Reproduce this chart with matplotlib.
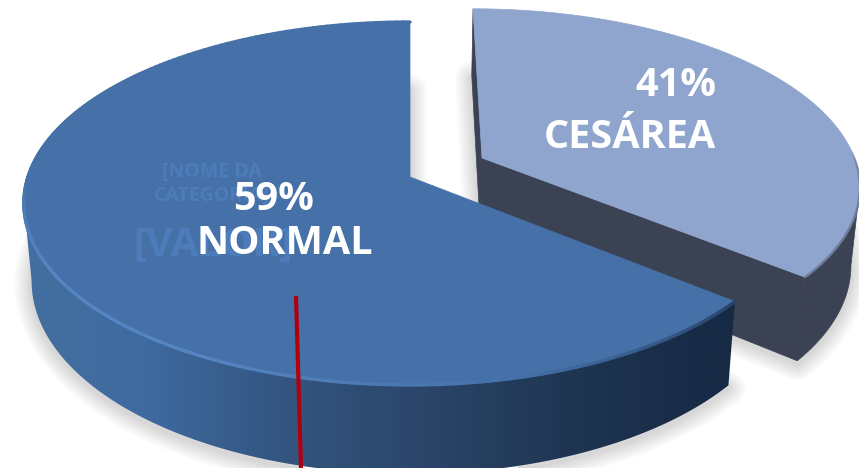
import numpy as np
import matplotlib
matplotlib.use("Agg")
import matplotlib.pyplot as plt
from matplotlib.collections import LineCollection
from matplotlib.colors import LinearSegmentedColormap, to_rgb
from matplotlib.patches import Polygon

# === data ===
categories = ["NORMAL", "CESÁREA"]
percents = [59, 41]
placeholder_name = "[NOME DA\nCATEGORIA]"
placeholder_value = "[VALOR]"

plt.rcParams['font.family'] = ['Open Sans', 'DejaVu Sans']

# === pie geometry, in pixels of the picture ===
CX, CY = 410, 177
A, B = 382, 177.6
K = 0.146          # perspective
DEPTH = 76
SHRINK = 0.98      # lower ring is a bit narrower
WARP = 20.0        # excel's rotated view squeezes the angles


def project(angle, radius=1.0, dx=0.0, dy=0.0, lower=False):
    # angle in degrees, clockwise from 12 o'clock
    t = np.radians(angle + WARP * np.sin(np.radians(2 * np.asarray(angle, dtype=float))))
    u, v = radius * np.sin(t), -radius * np.cos(t)
    s = 1 / (1 - K * v)
    x = (dx + A * u) * s
    y = (dy + B * v) * s
    if lower:
        x = x * SHRINK
        y = y + DEPTH * s
    return CX + x, CY + y


def arc(a0, a1, lower=False, **kw):
    angles = np.linspace(a0, a1, 300)
    return np.column_stack(project(angles, lower=lower, **kw))


split = 360 * percents[1] / 100  # cesarea runs 0..split, normal split..360

fig = plt.figure(figsize=(8.59, 4.68), dpi=100)
ax = fig.add_axes([0, 0, 1, 1])

ces = dict(radius=0.975, dx=72, dy=-19)
nor = dict()


def slice_parts(a0, a1, **kw):
    top = arc(a0, a1, **kw)
    low = arc(a0, a1, lower=True, **kw)
    apex = np.array(project(0.0, radius=0.0, dx=kw.get("dx", 0), dy=kw.get("dy", 0)))
    apex_low = np.array(project(0.0, radius=0.0, dx=kw.get("dx", 0), dy=kw.get("dy", 0), lower=True))
    return top, low, apex, apex_low


def soft_shadow(points):
    for w in range(24, 0, -3):
        ax.add_patch(Polygon(points + [0, 3], closed=True, fc="none", ec="black",
                             lw=w, alpha=0.018, joinstyle="round", zorder=1))


def side_gradient(points, stops, zorder):
    cmap = LinearSegmentedColormap.from_list("side", stops)
    im = ax.imshow(np.linspace(0, 1, 400)[None, :], cmap=cmap, aspect="auto",
                   extent=(0, 859, 468, 0), zorder=zorder, vmin=0, vmax=1)
    clip = Polygon(points, closed=True, transform=ax.transData)
    im.set_clip_path(clip)


def rim(points, colors, lw, zorder):
    segs = np.stack([points[:-1], points[1:]], axis=1)
    ax.add_collection(LineCollection(segs, colors=colors, linewidths=lw, zorder=zorder,
                                     capstyle="round"))


# --- cesarea, behind ---
top, low, apex, apex_low = slice_parts(0, split, **ces)
soft_shadow(np.vstack([[apex_low], low]))
dark = "#3b4254"
i_top, i_low = np.argmax(top[:, 0]), np.argmax(low[:, 0])
body = np.vstack([top[i_top:], low[i_low:][::-1]])
ax.add_patch(Polygon(body, closed=True, fc=dark, ec=dark, lw=0.5, zorder=2))
ax.add_patch(Polygon(np.vstack([apex, apex_low, low[0], top[0]]), closed=True, fc=dark, ec=dark, lw=0.5, zorder=2))
ax.add_patch(Polygon(np.vstack([apex, apex_low, low[-1], top[-1]]), closed=True, fc=dark, ec=dark, lw=0.5, zorder=2))
ax.add_patch(Polygon(np.vstack([[apex], top]), closed=True, fc="#8fa5cd", ec="#8fa5cd", lw=0.5, zorder=3))
n_rim = len(top) - 1
# blurred edge only on the front part of the rim
rim(top, [(*to_rgb("#6f7d99"), np.clip((i / n_rim - 0.55) * 2.5, 0, 1)) for i in range(n_rim)], 1.6, 4)

# --- normal, in front ---
top, low, apex, apex_low = slice_parts(split, 360, **nor)
soft_shadow(np.vstack([[apex_low], low]))
i_top, i_low = np.argmin(top[:, 0]), np.argmin(low[:, 0])
body = np.vstack([top[:i_top + 1], low[:i_low + 1][::-1]])
side_gradient(body, ["#44709f", "#3f6aa0", "#33557f", "#2a4568", "#1f3552", "#172a45", "#172a45"], 5)
ax.add_patch(Polygon(np.vstack([[apex], top]), closed=True, fc="#4571a8", ec="#4571a8", lw=0.5, zorder=6))

# lighter bevel along the front edge, dark at the cut end, gone on the back half
bevel = LinearSegmentedColormap.from_list("bevel", ["#28446a", "#4571a8", "#5485c2", "#5485c2", "#4c7bb6", "#4571a8"])
n_rim = len(top) - 1
frac = np.linspace(0, 1, n_rim)
rim(top, [bevel(min(f * 1.75, 1.0)) for f in frac], 2.4, 7)

# --- placeholders left under the real labels ---
ghost = "#4c7cb9"
ax.text(212, 184, placeholder_name, color=ghost, fontsize=14, fontweight="bold", ha="center",
        va="center", linespacing=1.25, zorder=8)
ax.text(213, 246, placeholder_value, color=ghost, fontsize=29, fontweight="bold", ha="center",
        va="center", zorder=8)

# --- labels ---
ax.text(274, 199, f"{percents[0]}%", color="white", fontsize=28.5, fontweight="bold", ha="center", va="center", zorder=9)
ax.text(285, 243, categories[0], color="white", fontsize=28.5, fontweight="bold", ha="center", va="center", zorder=9)
ax.text(676, 85, f"{percents[1]}%", color="white", fontsize=28.5, fontweight="bold", ha="center", va="center", zorder=9)
ax.text(630, 137, categories[1], color="white", fontsize=28.5, fontweight="bold", ha="center", va="center", zorder=9)

# red line someone drew over the picture
ax.plot([296, 301], [296, 468], color="#b00010", lw=3, solid_capstyle="butt", zorder=10)

ax.set_xlim(0, 859)
ax.set_ylim(468, 0)
ax.axis("off")
fig.savefig("out.png", dpi=100)
